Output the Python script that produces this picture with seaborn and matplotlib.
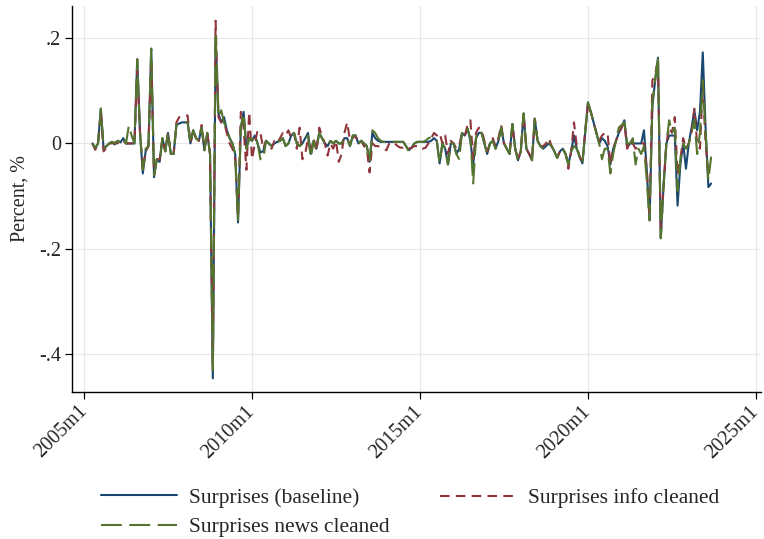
import numpy as np
import pandas as pd
import matplotlib
matplotlib.use("Agg")
import matplotlib.pyplot as plt
import seaborn as sns

# Monthly observations, 2005m4 .. 2023m9
start_year, start_month = 2005, 4

baseline = [
    # 2005 (Apr-Dec)
    0.0, -0.01, 0.0, 0.066, -0.012, -0.005, 0.0, 0.003, -0.002,
    # 2006
    0.005, 0.002, 0.01, 0.0, 0.0, 0.0, 0.0, 0.16, 0.02, -0.057, -0.015, -0.005,
    # 2007
    0.18, -0.064, -0.03, -0.035, 0.01, -0.015, 0.02, -0.02, -0.02, 0.035, 0.038, 0.04,
    # 2008
    0.04, 0.04, 0.0, 0.025, 0.01, 0.005, 0.03, -0.013, 0.02, -0.02, -0.446, 0.2,
    # 2009
    0.057, 0.04, 0.05, 0.025, 0.01, 0.0, -0.02, -0.15, 0.03, 0.06, -0.01, 0.01,
    # 2010
    0.005, 0.015, 0.0, -0.017, -0.015, 0.005, 0.0, -0.005, 0.0, 0.003, 0.005, 0.01,
    # 2011
    -0.005, 0.0, 0.015, 0.02, 0.0, -0.005, 0.0, 0.01, 0.02, -0.02, 0.005, -0.01,
    # 2012
    0.02, 0.01, 0.0, -0.005, 0.005, 0.0, 0.005, 0.0, 0.0, 0.01, 0.01, -0.005,
    # 2013
    0.015, 0.015, 0.0, 0.005, 0.0, -0.005, -0.035, 0.02, 0.01, 0.005, 0.003, 0.003,
    # 2014
    0.003, 0.003, 0.003, 0.003, 0.003, 0.003, 0.003, -0.005, -0.013, -0.008, 0.0, 0.003,
    # 2015
    0.003, 0.003, 0.003, 0.003, 0.005, 0.01, 0.005, -0.038, 0.0, -0.01, -0.04, 0.0,
    # 2016
    0.0, -0.02, -0.01, 0.02, 0.015, 0.028, 0.005, -0.04, 0.01, 0.02, 0.02, 0.0,
    # 2017
    -0.02, 0.0, 0.005, -0.01, 0.005, 0.03, 0.0, -0.01, -0.02, 0.037, -0.01, -0.032,
    # 2018
    -0.015, 0.057, -0.01, -0.02, -0.032, 0.047, 0.005, -0.005, -0.01, -0.005, 0.0, -0.005,
    # 2019
    -0.015, -0.027, -0.015, -0.01, -0.02, -0.04, -0.015, 0.015, -0.01, -0.025, -0.038, 0.02,
    # 2020
    0.078, 0.06, 0.04, 0.02, 0.0, 0.01, 0.005, -0.005, -0.04, -0.01, 0.005, 0.02,
    # 2021
    0.03, 0.044, -0.008, 0.0, 0.0, 0.0, 0.0, 0.0, 0.025, -0.05, -0.146, 0.07,
    # 2022
    0.12, 0.163, -0.18, -0.08, 0.0, 0.015, 0.015, 0.015, -0.118, -0.04, 0.0, -0.048,
    # 2023 (Jan-Sep)
    0.0, 0.03, 0.063, 0.025, 0.06, 0.173, 0.03, -0.083, -0.076,
]

info_cleaned = [
    0.0, -0.012, 0.0, 0.06, -0.015, -0.008, 0.0, 0.0, 0.002,
    0.0, 0.005, 0.005, 0.0, 0.0, 0.0, 0.0, 0.14, 0.02, -0.05, -0.015, -0.005,
    0.16, -0.06, -0.03, -0.03, 0.01, -0.015, 0.02, -0.02, -0.02, 0.04, 0.05, 0.05,
    0.053, 0.053, 0.0, 0.025, 0.01, 0.005, 0.035, -0.01, 0.02, -0.02, -0.43, 0.233,
    0.05, 0.04, 0.04, 0.02, 0.0, -0.01, -0.03, -0.14, 0.06, 0.03, -0.05, 0.06,
    -0.03, 0.0, 0.025, 0.02, -0.01, 0.005, -0.005, -0.01, 0.005, 0.0, 0.01, 0.02,
    0.015, 0.025, 0.01, 0.02, -0.01, 0.03, -0.03, -0.02, 0.01, -0.02, 0.01, -0.015,
    0.03, 0.015, 0.0, -0.023, 0.0, -0.01, 0.005, -0.035, -0.02, 0.02, 0.04, 0.005,
    0.01, 0.015, 0.0, 0.005, -0.005, -0.01, -0.055, 0.0, -0.005, -0.005, -0.008, -0.01,
    -0.013, 0.0, -0.003, 0.0, -0.005, -0.008, -0.008, -0.005, -0.01, -0.008, -0.005, -0.005,
    -0.01, -0.01, -0.008, 0.0, 0.01, 0.02, 0.015, 0.02, 0.0, 0.015, -0.02, 0.005,
    0.0, -0.01, -0.005, 0.02, 0.015, 0.035, 0.044, -0.03, 0.02, 0.03, 0.025, 0.005,
    -0.015, 0.0, 0.01, -0.005, 0.01, 0.035, 0.0, -0.01, -0.02, 0.035, -0.01, -0.03,
    -0.015, 0.055, -0.01, -0.02, -0.03, 0.047, 0.005, -0.005, -0.005, 0.0, 0.01, -0.005,
    -0.015, -0.027, -0.015, -0.01, -0.02, -0.048, -0.015, 0.04, -0.005, -0.025, -0.038, 0.025,
    0.075, 0.06, 0.04, 0.02, 0.005, 0.015, 0.02, 0.02, -0.04, -0.01, 0.005, 0.02,
    0.03, 0.04, -0.01, 0.005, 0.0, -0.01, -0.005, 0.0, 0.0, -0.05, -0.14, 0.12,
    0.13, 0.16, -0.175, -0.08, 0.0, 0.03, 0.02, 0.05, -0.06, -0.03, 0.01, -0.01,
    0.0, 0.02, 0.066, 0.0, -0.01, 0.11, 0.0, -0.06, -0.06,
]

news_cleaned = [
    0.0, -0.008, 0.0, 0.066, -0.01, -0.005, 0.0, 0.003, 0.0,
    0.005, 0.002, 0.01, 0.0, 0.034, 0.015, 0.0, 0.16, 0.02, -0.05, -0.01, -0.005,
    0.18, -0.06, -0.03, -0.035, 0.01, -0.015, 0.02, -0.02, -0.02, 0.035, 0.038, 0.04,
    0.04, 0.04, 0.0, 0.025, 0.01, 0.005, 0.03, -0.013, 0.02, -0.02, -0.43, 0.21,
    0.05, 0.063, 0.04, 0.025, 0.01, 0.0, -0.02, -0.145, 0.03, 0.057, -0.01, 0.01,
    0.005, 0.015, 0.0, -0.03, -0.03, 0.005, 0.0, -0.005, 0.0, 0.003, 0.005, 0.01,
    -0.005, 0.0, 0.015, 0.02, 0.0, -0.005, 0.0, 0.01, 0.015, -0.027, 0.005, -0.01,
    0.02, 0.01, 0.0, -0.005, 0.005, 0.0, 0.005, 0.0, 0.0, 0.01, 0.01, -0.005,
    0.015, 0.015, 0.0, 0.005, 0.0, -0.005, -0.035, 0.025, 0.02, 0.01, 0.005, 0.003,
    0.003, 0.003, 0.003, 0.003, 0.003, 0.003, 0.003, -0.005, -0.015, -0.008, 0.0, 0.003,
    0.003, 0.003, 0.005, 0.01, 0.012, 0.01, 0.005, -0.038, 0.0, -0.01, -0.04, 0.0,
    0.0, -0.02, -0.03, 0.02, 0.015, 0.028, 0.01, -0.076, 0.01, 0.025, 0.02, 0.0,
    -0.02, 0.0, 0.005, -0.01, 0.005, 0.03, 0.0, -0.01, -0.02, 0.037, -0.01, -0.032,
    -0.015, 0.057, -0.01, -0.02, -0.032, 0.047, 0.005, -0.005, -0.01, -0.005, 0.0, -0.005,
    -0.015, -0.027, -0.015, -0.01, -0.02, -0.04, -0.015, -0.005, -0.01, -0.025, -0.038, 0.02,
    0.078, 0.06, 0.04, 0.02, 0.0, -0.03, -0.01, -0.01, -0.057, -0.02, 0.005, 0.03,
    0.035, 0.04, 0.0, 0.0, 0.01, -0.04, -0.01, -0.02, -0.005, -0.07, -0.146, 0.08,
    0.12, 0.165, -0.18, -0.08, 0.0, 0.044, 0.02, 0.03, -0.09, -0.03, 0.0, -0.01,
    0.0, 0.02, 0.045, -0.02, 0.02, 0.12, 0.02, -0.07, -0.025,
]

tick_years = [2005, 2010, 2015, 2020, 2025]
tick_labels = [f"{y}m1" for y in tick_years]
y_ticks = [-0.4, -0.2, 0.0, 0.2]
y_tick_labels = ["-.4", "-.2", "0", ".2"]

series_names = ["Surprises (baseline)", "Surprises info cleaned", "Surprises news cleaned"]
colors = {"Surprises (baseline)": "#1a476f",
          "Surprises info cleaned": "#90353b",
          "Surprises news cleaned": "#55752f"}

n = len(baseline)
months = np.arange(n) + (start_year - 2005) * 12 + (start_month - 1)  # months since 2005m1
df = pd.DataFrame({
    "t": np.concatenate([months, months, months]),
    "value": np.concatenate([baseline, info_cleaned, news_cleaned]),
    "series": np.repeat(series_names, n),
})

sns.set_theme(style="white")
plt.rcParams["font.family"] = ["Liberation Serif", "DejaVu Serif"]

fig = plt.figure(figsize=(7.64, 5.39), dpi=100)
ax = fig.add_axes([72 / 764, 1 - 392 / 539, (761 - 72) / 764, (392 - 6) / 539])

styles = {"Surprises (baseline)": "-",
          "Surprises info cleaned": (0, (4.6, 3.0)),
          "Surprises news cleaned": (0, (10.0, 3.6))}
handles = {}
for name in series_names:
    sub = df[df["series"] == name]
    sns.lineplot(data=sub, x="t", y="value", ax=ax, color=colors[name],
                 linewidth=1.5, linestyle=styles[name], label=name, legend=False,
                 errorbar=None, sort=False)
    handles[name] = ax.lines[-1]

xticks = [(y - 2005) * 12 for y in tick_years]
ax.set_xlim(-4.3, 241.8)
ax.set_ylim(-0.472, 0.261)
ax.set_xticks(xticks)
ax.set_xticklabels(tick_labels, rotation=45, ha="right", va="center",
                   rotation_mode="anchor", fontsize=14.5)
ax.set_yticks(y_ticks)
ax.set_yticklabels(y_tick_labels, fontsize=14.5)
ax.grid(True, color="#e8e8e8", linewidth=0.9)
ax.set_axisbelow(True)
for s in ["top", "right"]:
    ax.spines[s].set_visible(False)
for s in ["left", "bottom"]:
    ax.spines[s].set_color("black")
    ax.spines[s].set_linewidth(1.0)
ax.tick_params(axis="both", direction="out", length=5, width=0.9, color="black",
               bottom=True, left=True)
ax.tick_params(axis="x", pad=7)
ax.tick_params(axis="y", pad=3)
ax.set_xlabel("")
ax.set_ylabel("Percent, %", fontsize=14.5, labelpad=7)

leg_kw = dict(loc="center left", frameon=False, fontsize=15.5, handlelength=3.55,
              handletextpad=0.55, labelspacing=0.42, borderaxespad=0.0, borderpad=0.0)
col1 = ["Surprises (baseline)", "Surprises news cleaned"]
leg1 = fig.legend([handles[k] for k in col1], col1,
                  bbox_to_anchor=(101 / 764, 1 - 512.5 / 539), **leg_kw)
col2 = ["Surprises info cleaned"]
leg2 = fig.legend([handles[k] for k in col2], col2,
                  bbox_to_anchor=(440 / 764, 1 - 498 / 539), **leg_kw)

fig.savefig("out.png", dpi=100)
